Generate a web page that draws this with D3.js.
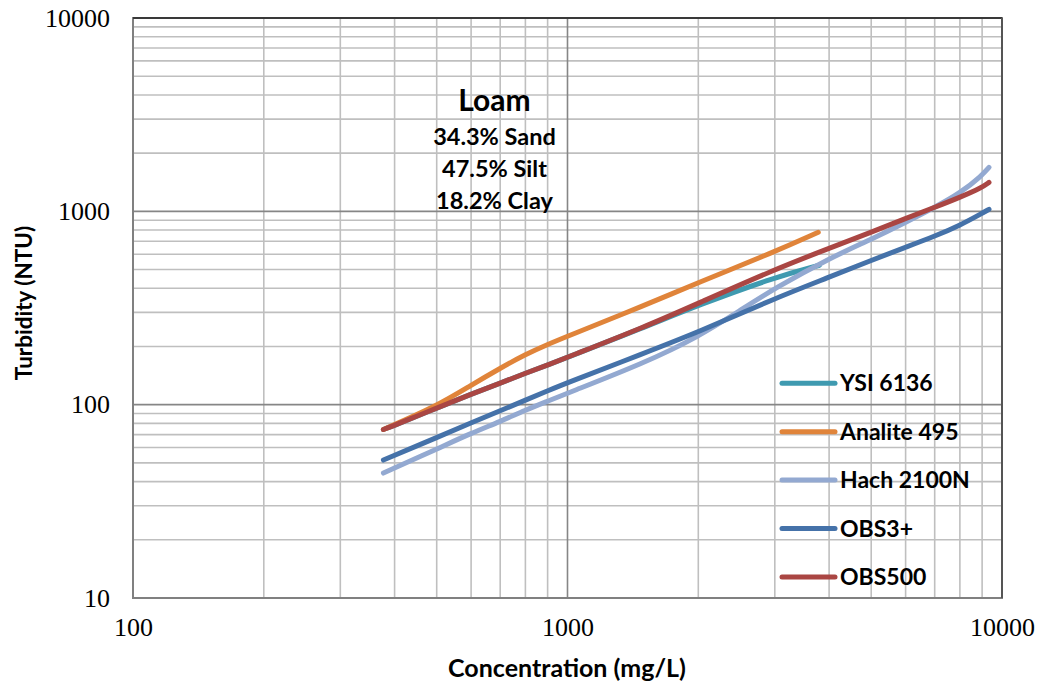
<!DOCTYPE html>
<html>
<head>
<meta charset="utf-8">
<script src="https://cdn.jsdelivr.net/npm/d3@7/dist/d3.min.js"></script>
<style>
  html, body { margin: 0; padding: 0; background: #fff; }
  svg { display: block; }
</style>
</head>
<body>
<script>
// Turbidity response of five sensors to a loam suspension (log-log)
const seriesNames = ["YSI 6136", "Analite 495", "Hach 2100N", "OBS3+", "OBS500"];
const seriesColors = ["#3f9ab0", "#e0843a", "#93a9d1", "#4572a9", "#aa4643"];

const ysiConc = [377, 400, 500, 600, 700, 800, 900, 1000, 1500, 2000, 3000, 3800];
const ysiNtu  = [74.4, 78.3, 95.9, 113.3, 129.2, 145.5, 160, 176, 251, 327, 456, 526];

const analiteConc = [377, 500, 600, 700, 800, 900, 1000, 1500, 2000, 3000, 3777];
const analiteNtu  = [74.4, 98.2, 126.1, 154.4, 182, 205, 226, 325, 428, 618, 779];

const hachConc = [377, 500, 600, 700, 800, 900, 1000, 1500, 2000, 2500, 3000, 4000, 5000, 6000, 7000, 8000, 9000, 9334];
const hachNtu  = [44.3, 58.9, 71.2, 81.8, 93.7, 104.2, 114.7, 164, 224, 308, 400, 571, 716, 877, 1049, 1239, 1535, 1688];

const obs3Conc = [377, 500, 600, 700, 800, 900, 1000, 1500, 2000, 3000, 4000, 5000, 6000, 7000, 8000, 9000, 9334];
const obs3Ntu  = [51.7, 67.6, 80.5, 93, 105.5, 118, 130, 184.5, 237, 355, 456, 558, 652, 743, 846, 977, 1024];

const obs500Conc = [377, 400, 500, 600, 700, 800, 900, 1000, 1500, 2000, 3000, 4000, 5000, 6000, 7000, 8000, 9000, 9334];
const obs500Ntu  = [74.4, 78.3, 95.9, 113.3, 129.2, 145.5, 160, 176, 251.5, 334.6, 501, 644, 779, 920, 1049, 1181, 1330, 1412];

const xTicks = [100, 1000, 10000];
const yTicks = [10, 100, 1000, 10000];
const annotation = ["Loam", "34.3% Sand", "47.5% Silt", "18.2% Clay"];

const series = [
  [ysiConc, ysiNtu], [analiteConc, analiteNtu], [hachConc, hachNtu],
  [obs3Conc, obs3Ntu], [obs500Conc, obs500Ntu]
].map((d, i) => ({
  name: seriesNames[i], color: seriesColors[i],
  points: d[0].map((c, j) => ({ x: c, y: d[1][j] }))
}));

const W = 1041, H = 688;
const plot = { left: 133, right: 1002, top: 18, bottom: 598 };
const sans = "Lato, 'Open Sans', sans-serif";

const svg = d3.select("body").append("svg").attr("width", W).attr("height", H);

const x = d3.scaleLog().domain([100, 10000]).range([plot.left, plot.right]);
const y = d3.scaleLog().domain([10, 10000]).range([plot.bottom, plot.top]);

// minor and major grid values
const minorX = [], minorY = [];
for (let d = 100; d < 10000; d *= 10) for (let k = 2; k <= 9; k++) minorX.push(d * k);
for (let d = 10; d < 10000; d *= 10) for (let k = 2; k <= 9; k++) minorY.push(d * k);

const grid = svg.append("g");
function vLines(vals, color) {
  grid.append("g").selectAll("line").data(vals).enter().append("line")
    .attr("x1", d => x(d)).attr("x2", d => x(d))
    .attr("y1", plot.top).attr("y2", plot.bottom)
    .attr("stroke", color).attr("stroke-width", 1.6);
}
function hLines(vals, color) {
  grid.append("g").selectAll("line").data(vals).enter().append("line")
    .attr("y1", d => y(d)).attr("y2", d => y(d))
    .attr("x1", plot.left).attr("x2", plot.right)
    .attr("stroke", color).attr("stroke-width", 1.6);
}
vLines(minorX, "#bfbfbf");
hLines(minorY, "#bfbfbf");
vLines(xTicks, "#868686");
hLines(yTicks, "#868686");

// frame
svg.append("rect")
  .attr("x", plot.left).attr("y", plot.top)
  .attr("width", plot.right - plot.left).attr("height", plot.bottom - plot.top)
  .attr("fill", "none").attr("stroke", "#808080").attr("stroke-width", 2);
svg.append("line").attr("x1", plot.left).attr("x2", plot.right)
  .attr("y1", plot.top).attr("y2", plot.top).attr("stroke", "#222").attr("stroke-width", 1.5);
svg.append("line").attr("x1", plot.right).attr("x2", plot.right)
  .attr("y1", plot.top).attr("y2", plot.bottom).attr("stroke", "#555").attr("stroke-width", 2);

// axes (labels only)
const xAxis = d3.axisBottom(x).tickValues(xTicks).tickFormat(d3.format("d")).tickSize(0).tickPadding(20);
const yAxis = d3.axisLeft(y).tickValues(yTicks).tickFormat(d3.format("d")).tickSize(0).tickPadding(23);
const gx = svg.append("g").attr("transform", `translate(0,${plot.bottom})`).call(xAxis);
const gy = svg.append("g").attr("transform", `translate(${plot.left},0)`).call(yAxis);
[gx, gy].forEach(g => {
  g.select(".domain").remove();
  g.selectAll("text").attr("font-family", "'Liberation Serif', 'Times New Roman', serif")
    .attr("font-size", 26).attr("fill", "#000");
});

// curves: B-spline through the read points keeps each response smooth
const line = d3.line().x(d => x(d.x)).y(d => y(d.y)).curve(d3.curveBasis);
svg.append("g").selectAll("path").data(series).enter().append("path")
  .attr("d", d => line(d.points))
  .attr("fill", "none").attr("stroke", d => d.color)
  .attr("stroke-width", 5).attr("stroke-linecap", "round").attr("stroke-linejoin", "round");

// legend
const legend = svg.append("g").attr("font-family", sans)
  .attr("font-weight", "bold").attr("font-size", 23);
series.forEach((s, i) => {
  const ly = 383.3 + i * 48.4;
  legend.append("line").attr("x1", 782).attr("x2", 835).attr("y1", ly).attr("y2", ly)
    .attr("stroke", s.color).attr("stroke-width", 5).attr("stroke-linecap", "round");
  legend.append("text").attr("x", 840).attr("y", ly + 8).text(s.name).attr("fill", "#000");
});

// soil annotation
const ann = svg.append("g").attr("font-family", sans)
  .attr("font-weight", "bold").attr("text-anchor", "middle").attr("fill", "#000");
ann.append("text").attr("x", 494.5).attr("y", 111).attr("font-size", 30).text(annotation[0]);
annotation.slice(1).forEach((t, i) => {
  ann.append("text").attr("x", 494.5).attr("y", 145 + i * 32).attr("font-size", 23.5).text(t);
});

// axis titles
svg.append("text").attr("x", 567).attr("y", 677).attr("text-anchor", "middle")
  .attr("font-family", sans).attr("font-weight", "bold")
  .attr("font-size", 25).text("Concentration (mg/L)");
svg.append("text").attr("transform", `translate(32,303) rotate(-90)`).attr("text-anchor", "middle")
  .attr("font-family", sans).attr("font-weight", "bold")
  .attr("font-size", 22.5).text("Turbidity (NTU)");
</script>
</body>
</html>
